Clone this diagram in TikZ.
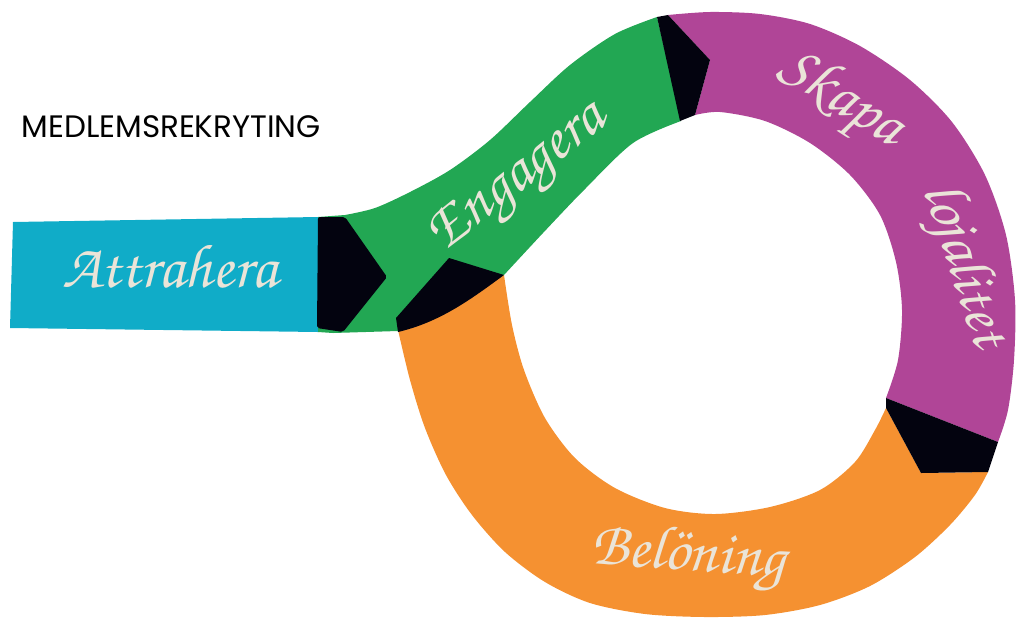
\documentclass[tikz,border=0pt]{standalone}
\usepackage[T1]{fontenc}
\usepackage{fontspec}
\setsansfont{Poppins}
\usepackage{tikz}
\definecolor{cblue}{HTML}{10ACC8}
\definecolor{cgreen}{HTML}{22A753}
\definecolor{cpurple}{HTML}{B04597}
\definecolor{corange}{HTML}{F59131}
\definecolor{cblack}{HTML}{03030F}
\definecolor{ccream}{HTML}{EAE4D8}
\newcommand{\handfont}{\fontencoding{T1}\fontfamily{pzc}\fontseries{mb}\fontshape{it}\fontsize{62}{62}\selectfont}

\begin{document}
\begin{tikzpicture}[x=1pt, y=-1pt, hand/.style={text=ccream, font=\handfont, inner sep=0pt}, tip/.style={fill=cblack}]
				\useasboundingbox (0,0) rectangle (1019,619);
				\fill[cblue] (13,222) -- (318,217) -- (318,332) -- (10,328) -- cycle;
				\fill[cgreen] (318,217) -- plot[smooth] coordinates {(345,215) (375,208) (410,192) (450,170) (490,140) (530,102) (570,65) (615,34) (657,17)}
				  -- (681,121) -- plot[smooth] coordinates {(681,121) (633,143) (584,190) (543,233) (504,275)}
				  -- (398,331) -- (333,333) -- (318,332) -- cycle;
				\fill[corange] (504,275) -- plot[smooth] coordinates {(504,275) (512,325) (524,370) (545,418) (575,458) (615,488) (665,508) (715,514) (770,507) (820,490) (855,462) (875,430) (886,408)}
				  -- (921,473) -- (988,472) -- plot[smooth] coordinates {(988,472) (975,495) (950,525) (915,557) (870,586) (820,605) (765,615) (705,617) (645,614) (590,603) (545,582) (505,552) (472,515) (446,475) (425,428) (410,380) (398,330)} -- cycle;
				\fill[cpurple] (668,15) -- plot[smooth] coordinates {(668,15) (710,12) (760,14) (810,24) (860,46) (910,80) (952,122) (985,175) (1006,235) (1015,300) (1014,360) (1008,410) (998,442)}
				  -- (886,398) -- plot[smooth] coordinates {(886,398) (898,360) (902,310) (896,262) (880,215) (850,175) (810,143) (765,121) (720,112) (695,115)}
				  -- (710,60) -- cycle;

				\fill[tip, rounded corners=2pt] (318,217) -- (345,217) -- (387,277) -- (343,332) -- (317,328) -- cycle;
				\fill[tip] (657,17) -- (668,15) -- (710,60) -- (695,115) -- (680,121) -- cycle;
				\fill[tip] (396,318) -- (449,258) -- (504,275) .. controls (470,300) and (440,322) .. (398,332) -- cycle;
				\fill[tip] (886,398) -- (998,442) -- (988,472) -- (921,473) -- (886,408) -- cycle;

				\node[anchor=west, font=\sffamily\fontsize{31}{31}\selectfont] (T) at (18,127) {MEDLEMSREKRYTING};
				\node[hand] (A) at (170,266) {Attrahera};
				\node[hand, rotate=38] (E) at (520,180) {Engagera};
				\node[hand, rotate=-32] (S) at (840,100) {Skapa};
				\node[hand, rotate=-72] (L) at (962,266) {lojalitet};
				\node[hand, rotate=-4] (B) at (688,558) {Belöning};
\end{tikzpicture}
\end{document}
